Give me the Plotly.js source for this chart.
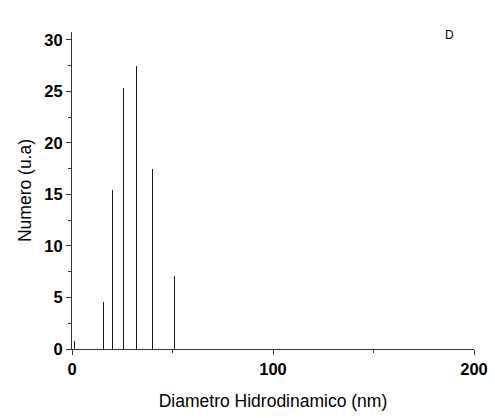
<!DOCTYPE html>
<html>
<head>
<meta charset="utf-8">
<script src="https://cdn.plot.ly/plotly-3.0.1.min.js"></script>
<style>html,body{margin:0;padding:0;background:#fff;}#chart{width:495px;height:418px;}</style>
</head>
<body>
<div id="chart"></div>
<script>
const diameters = [1.3, 15.8, 20.0, 25.6, 32.3, 40.0, 50.9];
const numero = [0.8, 4.6, 15.4, 25.3, 27.5, 17.5, 7.1];
const xTicks = [0, 100, 200];
const yTicks = [0, 5, 10, 15, 20, 25, 30];

const trace = {
  type: 'bar',
  x: diameters,
  y: numero,
  width: 0.05,
  marker: {color: '#1a1a1a', line: {width: 0}},
  hoverinfo: 'x+y'
};

const tickFont = {family: 'Liberation Sans, Arial, sans-serif', size: 16.5, color: '#000', weight: 'bold'};
const titleFont = {family: 'Liberation Sans, Arial, sans-serif', size: 17.5, color: '#000'};

const layout = {
  width: 495, height: 418,
  margin: {l: 72, r: 21, t: 32, b: 69},
  paper_bgcolor: '#fff', plot_bgcolor: '#fff',
  showlegend: false,
  bargap: 0,
  xaxis: {
    range: [0, 200],
    tickvals: xTicks,
    ticktext: xTicks.map(String),
    ticks: 'outside', ticklen: 5, tickwidth: 1, tickcolor: '#333',
    minor: {tickvals: [50, 150], ticks: 'outside', ticklen: 3, tickwidth: 1, tickcolor: '#333', showgrid: false},
    showline: true, linecolor: '#333', linewidth: 1,
    showgrid: false, zeroline: false, fixedrange: true,
    tickfont: tickFont,
    title: {text: 'Diametro Hidrodinamico (nm)', font: titleFont, standoff: 17}
  },
  yaxis: {
    range: [0, 30.75],
    tickvals: yTicks,
    ticktext: yTicks.map(String),
    ticks: 'outside', ticklen: 5, tickwidth: 1, tickcolor: '#333',
    minor: {tickvals: [2.5, 7.5, 12.5, 17.5, 22.5, 27.5], ticks: 'outside', ticklen: 3, tickwidth: 1, tickcolor: '#333', showgrid: false},
    showline: true, linecolor: '#333', linewidth: 1,
    showgrid: false, zeroline: false, fixedrange: true,
    tickfont: tickFont,
    title: {text: 'Numero (u.a)', font: titleFont, standoff: 8}
  },
  annotations: [{
    text: 'D', xref: 'paper', yref: 'paper', x: 0.94, y: 0.99,
    xanchor: 'center', yanchor: 'middle', showarrow: false,
    font: {family: 'Liberation Sans, Arial, sans-serif', size: 12, color: '#000'}
  }]
};

Plotly.newPlot('chart', [trace], layout, {displayModeBar: false});
</script>
</body>
</html>
